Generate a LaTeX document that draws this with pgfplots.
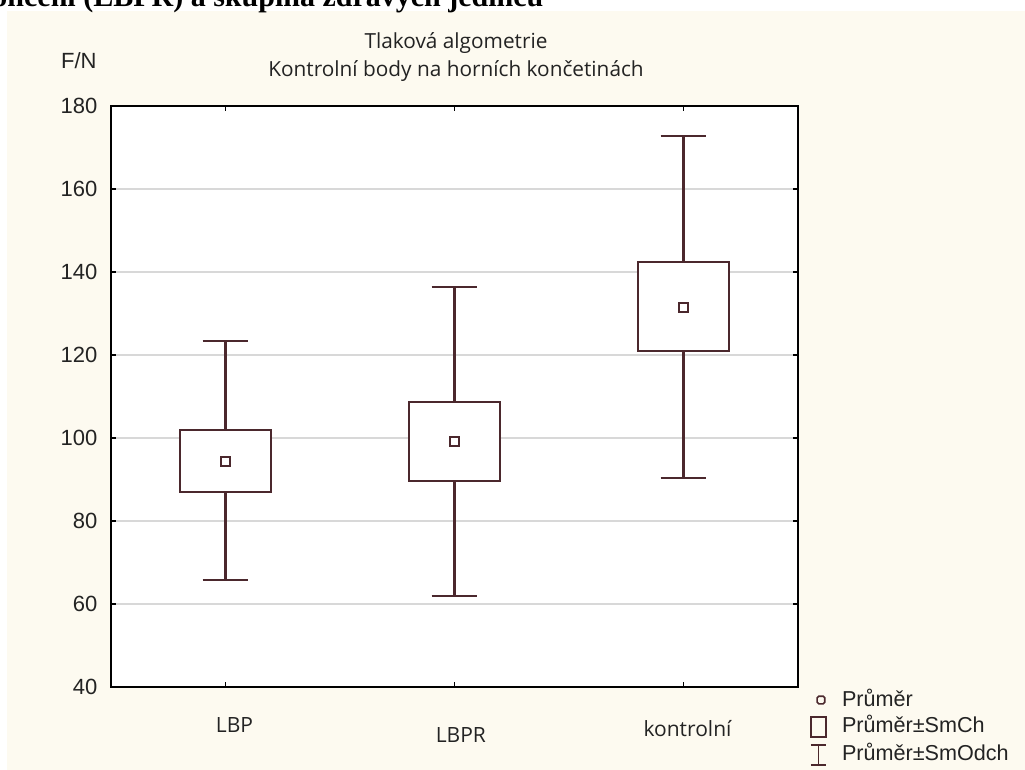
\documentclass[border=0pt]{standalone}
\usepackage{fontspec}
\setmainfont{Liberation Sans}
\newfontfamily\titlefont{Open Sans}
\newfontfamily\docserif{Liberation Serif}
\usepackage{pgfplots}
\pgfplotsset{compat=1.18}
\definecolor{cream}{RGB}{253,250,240}
\definecolor{boxc}{RGB}{75,40,45}
\definecolor{gridc}{RGB}{216,216,216}
\definecolor{txt}{RGB}{35,35,35}
\begin{document}
\begin{tikzpicture}
\fill[white] (0pt,0pt) rectangle (512.5pt,385pt);
\fill[cream] (3.5pt,0pt) rectangle (512.5pt,379.5pt);
\node[anchor=base west, inner sep=0pt, font=\docserif\bfseries\fontsize{15}{18}\selectfont] at (-12.3pt,381.5pt) {končení (LBPR) a skupina zdravých jedinců};
\node[anchor=base, inner sep=0pt, text=txt, font=\titlefont\fontsize{10.4}{12}\selectfont] at (228pt,360.5pt) {Tlaková algometrie};
\node[anchor=base, inner sep=0pt, text=txt, font=\titlefont\fontsize{10.4}{12}\selectfont] at (228pt,346.5pt) {Kontrolní body na horních končetinách};
\node[anchor=base east, inner sep=0pt, text=txt, font=\fontsize{11}{13}\selectfont] at (48.5pt,350.5pt) {F/N};
\begin{axis}[
  at={(55.5pt,41.5pt)}, anchor=south west,
  scale only axis, width=343.5pt, height=290.5pt,
  xmin=-0.5, xmax=2.5, ymin=40, ymax=180,
  ytick={40,60,...,180}, xtick={0,1,2}, xticklabels={},
  ymajorgrids, grid style={gridc, line width=0.6pt},
  axis background/.style={fill=white},
  axis line style={black, line width=0.8pt},
  major tick length=2.5pt, tick style={black, line width=0.6pt},
  /pgf/number format/assume math mode=true,
  yticklabel style={font=\fontsize{11}{13}\selectfont, text=txt, xshift=-3.3pt},
  clip=false,
  unbounded coords=jump,
  legend style={at={(1.0175,-0.0052)}, anchor=north west, draw=none, fill=none,
    inner sep=0pt, outer sep=0pt, font=\fontsize{10.8}{12}\selectfont, text=txt,
    nodes={inner sep=0pt, text height=8pt, text depth=2pt},
    row sep=3pt, column sep=7.6pt},
  legend cell align=left,
]
% whiskers (mean +- SD): caps and stems
\addplot[forget plot, boxc, line width=1.05pt, mark=none] coordinates {
 (-0.1,123.3) (0.1,123.3) (nan,nan) (0,123.3) (0,65.8) (nan,nan) (-0.1,65.8) (0.1,65.8)};
\addplot[forget plot, boxc, line width=1.05pt, mark=none] coordinates {
 (0.9,136.3) (1.1,136.3) (nan,nan) (1,136.3) (1,61.9) (nan,nan) (0.9,61.9) (1.1,61.9)};
\addplot[forget plot, boxc, line width=1.05pt, mark=none] coordinates {
 (1.9,172.8) (2.1,172.8) (nan,nan) (2,172.8) (2,90.3) (nan,nan) (1.9,90.3) (2.1,90.3)};
% boxes (mean +- SE)
\addplot[forget plot, boxc, line width=1.05pt, fill=white, mark=none] coordinates {
 (-0.2,87.0) (0.2,87.0) (0.2,101.9) (-0.2,101.9)} -- cycle;
\addplot[forget plot, boxc, line width=1.05pt, fill=white, mark=none] coordinates {
 (0.8,89.7) (1.2,89.7) (1.2,108.6) (0.8,108.6)} -- cycle;
\addplot[forget plot, boxc, line width=1.05pt, fill=white, mark=none] coordinates {
 (1.8,120.9) (2.2,120.9) (2.2,142.3) (1.8,142.3)} -- cycle;
% means
\addplot[forget plot, only marks, mark=square, mark size=2.3pt, boxc, mark options={line width=0.9pt}] coordinates {
 (0,94.3) (1,99.1) (2,131.5)};
\addlegendimage{legend image code/.code={\draw[boxc, line width=0.8pt, rounded corners=0.8pt] (3.1pt,-1.9pt) rectangle (6.9pt,1.9pt);}}
\addlegendentry{Průměr}
\addlegendimage{legend image code/.code={\draw[boxc, line width=0.9pt] (0pt,-5pt) rectangle (7.5pt,5pt);}}
\addlegendentry{Průměr±SmCh}
\addlegendimage{legend image code/.code={\draw[boxc, line width=0.9pt] (0pt,5pt) -- (7.5pt,5pt) (3.75pt,5pt) -- (3.75pt,-5pt) (0pt,-5pt) -- (7.5pt,-5pt);}}
\addlegendentry{Průměr±SmOdch}
\node[anchor=base, inner sep=0pt, text=txt, font=\titlefont\fontsize{10.5}{12}\selectfont, xshift=4.5pt, yshift=-23pt] at (axis cs:0,40) {LBP};
\node[anchor=base, inner sep=0pt, text=txt, font=\titlefont\fontsize{10.5}{12}\selectfont, xshift=3.2pt, yshift=-28pt] at (axis cs:1,40) {LBPR};
\node[anchor=base, inner sep=0pt, text=txt, font=\titlefont\fontsize{10.5}{12}\selectfont, xshift=2pt, yshift=-25pt] at (axis cs:2,40) {kontrolní};
\end{axis}
\pgfresetboundingbox
\useasboundingbox (0pt,0pt) rectangle (512.5pt,385pt);
\end{tikzpicture}
\end{document}
